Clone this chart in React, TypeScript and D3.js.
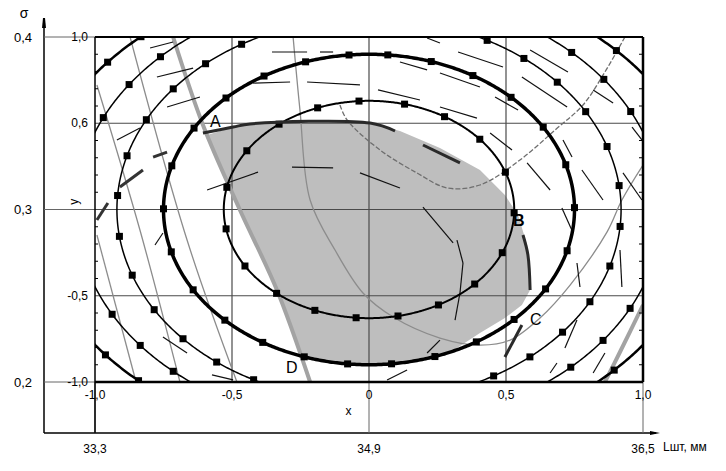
import React from "react";
import * as d3 from "d3";

// ---------- data ----------
const codedTicks = [-1, -0.5, 0, 0.5, 1];
const codedXLabels = ["-1,0", "-0,5", "0", "0,5", "1,0"];
const codedYLabels = ["-1,0", "-0,5", "", "0,6", "1,0"];
const minorTicks = [-0.9, -0.8, -0.7, -0.6, -0.4, -0.3, -0.2, -0.1, 0.1, 0.2, 0.3, 0.4, 0.6, 0.7, 0.8, 0.9];
const lengthTicks = [33.3, 34.9, 36.5];
const lengthLabels = ["33,3", "34,9", "36,5"];
const sigmaTicks = [0.2, 0.3, 0.4];
const sigmaLabels = ["0,2", "0,3", "0,4"];

// concentric contours (semi-axes in coded units)
const contourRx = [0.53, 0.75, 0.92, 1.07, 1.22];
const contourRy = [0.63, 0.9, 1.11, 1.26, 1.37];

// feasible (shaded) region
const feasibleRegion: [number, number][] = [
  [-0.59, 0.432], [-0.496, 0.478], [-0.434, 0.496], [0.004, 0.501], [0.113, 0.455],
  [0.259, 0.357], [0.405, 0.229], [0.496, 0.084], [0.544, -0.032], [0.577, -0.206],
  [0.588, -0.467], [0.558, -0.554], [0.496, -0.629], [0.405, -0.716], [0.3, -0.825],
  [0.15, -0.882], [0, -0.9], [-0.15, -0.882], [-0.25, -0.849], [-0.336, -0.467],
  [-0.471, -0.003],
];
const boundaryTop: [number, number][] = [[-0.606, 0.443], [-0.496, 0.478], [-0.434, 0.496], [0.004, 0.501], [0.095, 0.455]];
const boundaryMid: [number, number][] = [[0.197, 0.374], [0.332, 0.27]];
const boundaryRight: [number, number][] = [[0.562, -0.148], [0.58, -0.264], [0.588, -0.467]];
const boundaryC: [number, number][] = [[0.496, -0.855], [0.558, -0.67]];

// constraint line A-D (thick grey)
const constraintAD: [number, number][] = [[-0.715, 1.0], [-0.606, 0.49], [-0.471, -0.003], [-0.336, -0.467], [-0.215, -1.0]];
const constraintCorner: [number, number][] = [[0.861, -1.0], [0.916, -0.826], [1.0, -0.554]];

// thin grey contour lines
const greyLine1: [number, number][] = [[-0.872, 1.0], [-0.664, -0.177], [-0.482, -1.0]];
const greyLine2: [number, number][] = [[-0.993, 0.722], [-0.836, -0.119], [-0.69, -1.0]];
const greyLine3: [number, number][] = [[-0.993, -0.148], [-0.854, -0.977]];
const greyLine4: [number, number][] = [
  [-0.277, 1.0], [-0.252, 0.577], [-0.215, 0.055], [-0.124, -0.235], [-0.022, -0.484],
  [0.088, -0.623], [0.259, -0.745], [0.405, -0.786], [0.515, -0.757], [0.624, -0.629],
  [0.734, -0.438], [0.869, -0.13], [0.923, 0.055], [1.0, 0.258],
];
const greyLine5: [number, number][] = [
  [-0.106, 0.606], [-0.08, 0.519], [0.04, 0.345], [0.175, 0.212], [0.285, 0.125],
  [0.405, 0.142], [0.551, 0.287], [0.679, 0.461], [0.781, 0.606], [0.861, 0.797], [0.934, 1.0],
];

// short streak segments [x1, y1, x2, y2]
const streaks: number[][] = [
  [-0.354, 0.913, -0.226, 0.913], [-0.179, 0.913, -0.131, 0.913], [-0.423, 0.733, -0.288, 0.739],
  [-0.226, 0.739, -0.033, 0.722], [0.033, 0.693, 0.186, 0.635], [0.113, 0.855, 0.212, 0.809],
  [0.212, 0.994, 0.259, 0.965], [0.325, 0.913, 0.489, 0.826], [0.259, 0.791, 0.405, 0.71],
  [-0.281, 0.246, -0.131, 0.241], [-0.033, 0.212, 0.113, 0.125], [0.197, 0.014, 0.307, -0.194],
  [0.259, 0.594, 0.394, 0.53], [-0.591, 0.113, -0.405, 0.217], [0.343, -0.31, 0.332, -0.484],
  [0.332, -0.484, 0.314, -0.641], [0.259, -0.757, 0.212, -0.832], [0.066, -0.988, 0.139, -0.93],
  [0.588, 0.925, 0.726, 0.797], [0.558, 0.768, 0.723, 0.594], [0.46, 0.652, 0.544, 0.577],
  [0.442, 0.443, 0.522, 0.345], [0.577, 0.27, 0.661, 0.113], [0.708, 0.403, 0.741, 0.304],
  [0.777, 0.229, 0.854, 0.055], [0.927, 0.212, 0.996, 0.055], [0.818, 0.693, 0.891, 0.617],
  [0.96, 0.478, 0.996, 0.403], [0.704, 0.009, 0.745, -0.136], [0.759, -0.31, 0.77, -0.449],
  [0.916, -0.235, 0.923, -0.449], [0.715, -0.803, 0.759, -0.641], [0.818, -0.948, 0.861, -0.832],
  [0.661, -0.948, 0.686, -0.89], [-0.799, 0.936, -0.715, 0.971], [-0.774, 0.768, -0.642, 0.82],
  [-0.737, 0.594, -0.617, 0.652], [-0.92, 0.403, -0.836, 0.472], [-0.781, -0.206, -0.752, -0.136],
  [-0.752, -0.739, -0.664, -0.832], [-0.573, -0.959, -0.496, -0.988], [0.321, -0.177, 0.343, -0.31],
];
const thickStreaks: number[][] = [
  [-0.788, 0.304, -0.737, 0.333], [-0.909, 0.13, -0.825, 0.229], [-0.993, -0.061, -0.953, 0.038],
];

const pointLabels = [
  { text: "A", x: -0.58, y: 0.48, bold: false },
  { text: "B", x: 0.526, y: -0.096, bold: true },
  { text: "C", x: 0.588, y: -0.67, bold: false },
  { text: "D", x: -0.303, y: -0.948, bold: false },
];

// ---------- layout ----------
const W = 726, H = 471;
const x = d3.scaleLinear().domain([-1, 1]).range([95, 643]);
const y = d3.scaleLinear().domain([-1, 1]).range([382, 37]);
const xLen = d3.scaleLinear().domain([33.3, 36.5]).range([95, 643]);
const ySig = d3.scaleLinear().domain([0.2, 0.4]).range([382, 37]);
const AXIS_LEFT = 44, AXIS_BOTTOM = 433;
const FONT = "'Liberation Sans', Arial, sans-serif";

const contourWidth = [2, 3.5, 1.5, 1.5, 2.5];
const markerSpacing = [42, 44, 41, 42, 42];
const markerOffset = [10, 20, 8, 12, 30];

const lineGen = d3.line<[number, number]>().x(d => x(d[0])).y(d => y(d[1]));
const smoothGen = d3.line<[number, number]>().x(d => x(d[0])).y(d => y(d[1])).curve(d3.curveCatmullRom.alpha(0.5));

function ellipsePts(rx: number, ry: number): [number, number][] {
  return d3.range(721).map(i => {
    const t = (Math.PI / 2) + (2 * Math.PI * i) / 720;
    return [rx * Math.cos(t), ry * Math.sin(t)] as [number, number];
  });
}

function markersOn(pts: [number, number][], spacing: number, offset: number) {
  const px = pts.map(p => [x(p[0]), y(p[1])]);
  const out: [number, number][] = [];
  let acc = 0, next = offset;
  for (let i = 1; i < px.length; i++) {
    const dx = px[i][0] - px[i - 1][0], dy = px[i][1] - px[i - 1][1];
    const seg = Math.hypot(dx, dy);
    while (next <= acc + seg) {
      const f = (next - acc) / seg;
      out.push([px[i - 1][0] + dx * f, px[i - 1][1] + dy * f]);
      next += spacing;
    }
    acc += seg;
  }
  return out.filter(p => p[0] >= 94 && p[0] <= 644 && p[1] >= 36 && p[1] <= 383);
}

export default function App() {
  return (
    <svg width={W} height={H} style={{ position: "absolute", left: 0, top: 0, background: "#fff" }}
      fontFamily={FONT}>
      <defs>
        <clipPath id="plot">
          <rect x={x(-1)} y={y(1)} width={x(1) - x(-1)} height={y(-1) - y(1)} />
        </clipPath>
      </defs>

      {/* outer axes */}
      <line x1={AXIS_LEFT} y1={20} x2={AXIS_LEFT} y2={AXIS_BOTTOM} stroke="#000" strokeWidth={1.5} />
      <path d={`M${AXIS_LEFT - 2},28 L${AXIS_LEFT + 2},28 L${AXIS_LEFT + 1},18 L${AXIS_LEFT - 1},18 Z`} fill="#000" />
      <line x1={AXIS_LEFT} y1={AXIS_BOTTOM} x2={656} y2={AXIS_BOTTOM} stroke="#000" strokeWidth={1.5} />
      <path d={`M650,431 L660,433 L650,435 Z`} fill="#000" />
      {sigmaTicks.map((s, i) => (
        <g key={"s" + i}>
          <line x1={AXIS_LEFT} x2={x(-1)} y1={ySig(s)} y2={ySig(s)} stroke="#666" strokeWidth={1} />
          <text x={32} y={ySig(s)} dy="0.35em" fontSize={13} textAnchor="end">{sigmaLabels[i]}</text>
        </g>
      ))}
      {lengthTicks.map((l, i) => (
        <g key={"l" + i}>
          <line x1={xLen(l)} x2={xLen(l)} y1={y(-1)} y2={AXIS_BOTTOM} stroke="#666" strokeWidth={1} />
          <text x={xLen(l)} y={449} dy="0.35em" fontSize={12} textAnchor="middle">{lengthLabels[i]}</text>
        </g>
      ))}
      <text x={24} y={13} dy="0.35em" fontSize={14} textAnchor="middle">σ</text>
      <text x={663} y={447} dy="0.35em" fontSize={12}>Lшт, мм</text>

      {/* plot content */}
      <g clipPath="url(#plot)">
        <path d={lineGen.curve(d3.curveLinearClosed)(feasibleRegion) || ""} fill="#bebebe" stroke="none" />
        {/* gridlines */}
        {codedTicks.slice(1, 4).map((t, i) => (
          <g key={"g" + i}>
            <line x1={x(t)} x2={x(t)} y1={y(1)} y2={y(-1)} stroke="#4a4a4a" strokeWidth={1.2} />
            <line x1={x(-1)} x2={x(1)} y1={y(t)} y2={y(t)} stroke="#4a4a4a" strokeWidth={1.2} />
          </g>
        ))}
        {/* thin grey contour lines */}
        {[greyLine1, greyLine2, greyLine3, greyLine4].map((l, i) => (
          <path key={"gl" + i} d={smoothGen(l) || ""} fill="none" stroke="#8c8c8c" strokeWidth={1.3} />
        ))}
        <path d={smoothGen(greyLine5) || ""} fill="none" stroke="#6e6e6e" strokeWidth={1.3} strokeDasharray="5,2" />
        {/* thick grey constraints */}
        <path d={smoothGen(constraintAD) || ""} fill="none" stroke="#a3a3a3" strokeWidth={4} />
        <path d={smoothGen(constraintCorner) || ""} fill="none" stroke="#a3a3a3" strokeWidth={4} />
        {/* streaks */}
        {streaks.map((s, i) => (
          <line key={"st" + i} x1={x(s[0])} y1={y(s[1])} x2={x(s[2])} y2={y(s[3])} stroke="#111" strokeWidth={1.2} />
        ))}
        {thickStreaks.map((s, i) => (
          <line key={"ts" + i} x1={x(s[0])} y1={y(s[1])} x2={x(s[2])} y2={y(s[3])} stroke="#333" strokeWidth={3} />
        ))}
        {/* concentric contours */}
        {contourRx.map((rx, i) => {
          const pts = ellipsePts(rx, contourRy[i]);
          const ms = markersOn(pts, markerSpacing[i], markerOffset[i]);
          return (
            <g key={"c" + i}>
              <path d={lineGen.curve(d3.curveLinear)(pts) || ""} fill="none" stroke="#000" strokeWidth={contourWidth[i]} />
              {ms.map((m, j) => (
                <rect key={j} x={m[0] - 3.5} y={m[1] - 3.5} width={7} height={7} fill="#000" />
              ))}
            </g>
          );
        })}
        {/* region boundary */}
        {[boundaryTop, boundaryMid, boundaryRight, boundaryC].map((b, i) => (
          <path key={"b" + i} d={smoothGen(b) || ""} fill="none" stroke="#2a2a2a" strokeWidth={3} />
        ))}
      </g>

      {/* frame */}
      <line x1={x(-1)} x2={x(-1)} y1={y(1)} y2={AXIS_BOTTOM} stroke="#000" strokeWidth={1.5} />
      <line x1={x(-1)} x2={x(1)} y1={y(1)} y2={y(1)} stroke="#000" strokeWidth={2} />
      <line x1={x(-1)} x2={x(1)} y1={y(-1)} y2={y(-1)} stroke="#000" strokeWidth={2.5} />
      <line x1={x(1)} x2={x(1)} y1={y(1)} y2={y(-1)} stroke="#000" strokeWidth={2.5} />
      {minorTicks.map((t, i) => (
        <g key={"m" + i}>
          <line x1={x(-1)} x2={x(-1) + 3} y1={y(t)} y2={y(t)} stroke="#000" strokeWidth={1} />
          <line x1={x(1) - 4} x2={x(1)} y1={y(t)} y2={y(t)} stroke="#000" strokeWidth={1} />
        </g>
      ))}

      {/* coded tick labels */}
      {codedTicks.map((t, i) => (
        <text key={"xl" + i} x={x(t)} y={395} dy="0.35em" fontSize={12} textAnchor="middle">{codedXLabels[i]}</text>
      ))}
      {codedTicks.map((t, i) => (
        codedYLabels[i] ? (
          <text key={"yl" + i} x={88} y={y(t)} dy="0.35em" fontSize={12} textAnchor="end">{codedYLabels[i]}</text>
        ) : null
      ))}
      <text x={x(-0.075)} y={411} dy="0.35em" fontSize={12} textAnchor="middle">x</text>
      <text transform={`translate(74,${y(0.045)}) rotate(-90)`} dy="0.35em" fontSize={12} textAnchor="middle">y</text>

      {/* point labels */}
      {pointLabels.map((p, i) => (
        <text key={"p" + i} x={x(p.x)} y={y(p.y)} fontSize={16} fontWeight={p.bold ? "bold" : "normal"}>{p.text}</text>
      ))}
    </svg>
  );
}
